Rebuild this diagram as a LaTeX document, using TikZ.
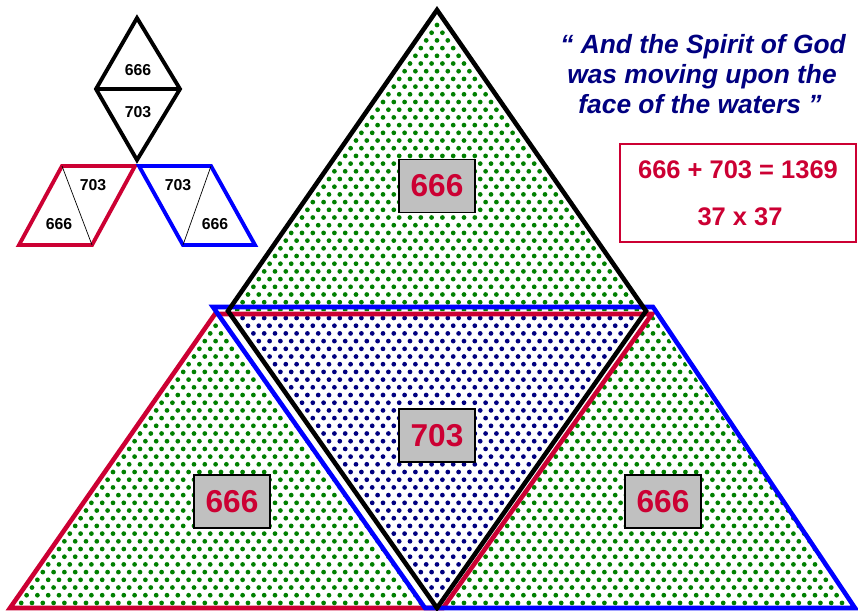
\documentclass[tikz,border=0pt]{standalone}
\usepackage{fontspec}
\setmainfont{Liberation Sans}
\usepackage{tikz}
\usepackage{xcolor}

\definecolor{crimson}{RGB}{204,0,51}
\definecolor{navytext}{RGB}{0,0,128}
\definecolor{dotgreen}{RGB}{0,128,0}
\definecolor{dotnavy}{RGB}{0,0,128}
\definecolor{pureblue}{RGB}{0,0,255}
\definecolor{boxgray}{RGB}{192,192,192}

\begin{document}
\begin{tikzpicture}[x = 0.02cm, y = -0.02cm,
    numbox/.style = {draw = black, line width = 0.6pt, fill = boxgray, minimum width = 1.52cm, minimum height = 1.06cm, inner sep = 0pt, text = crimson, font = \fontsize{18}{20}\selectfont\bfseries},
    iconlabel/.style = {font = \fontsize{9}{10}\selectfont\bfseries},
    quoteline/.style = {anchor = base, text = navytext, font = \fontsize{15}{17}\selectfont\bfseries\itshape},
    sumline/.style = {anchor = base, text = crimson, font = \fontsize{14.5}{17}\selectfont\bfseries},
    thickline/.style = {line width = 2.6pt},
    iconline/.style = {line width = 2.2pt}]
        \useasboundingbox (0, 0) rectangle (858, 610);

        \coordinate (T) at (437, 10);
        \coordinate (ML) at (228, 311);
        \coordinate (MR) at (646, 311);
        \coordinate (B) at (437, 608);
        \coordinate (redTL) at (215, 314);
        \coordinate (redTR) at (652, 314);
        \coordinate (redBL) at (10, 608);
        \coordinate (redBR) at (443, 608);
        \coordinate (blueTL) at (213, 307);
        \coordinate (blueTR) at (653, 307);
        \coordinate (blueBL) at (425, 608);
        \coordinate (blueBR) at (855, 608);

        % dotted fills
        \begin{scope}
            \clip (T) -- (ML) -- (MR) -- cycle;
            \foreach \r in {0,...,40}
            \foreach \c in {0,...,40}
            \fill [dotgreen] ({221 + 10.8*\c + 5.4*mod(\r,2)}, {9.6 + 7.7*\r}) circle [radius = 1.35pt];
        \end{scope}
        \begin{scope}
            \clip (ML) -- (MR) -- (B) -- cycle;
            \foreach \r in {0,...,39}
            \foreach \c in {0,...,40}
            \fill [dotnavy] ({221 + 10.8*\c + 5.4*mod(\r,2)}, {318 + 7.7*\r}) circle [radius = 1.35pt];
        \end{scope}
        \begin{scope}
            \clip (redTL) -- (redBL) -- (blueBL) -- cycle;
            \foreach \r in {0,...,39}
            \foreach \c in {0,...,40}
            \fill [dotgreen] ({5 + 10.8*\c + 5.4*mod(\r,2)}, {318 + 7.7*\r}) circle [radius = 1.35pt];
        \end{scope}
        \begin{scope}
            \clip (redTR) -- (redBR) -- (blueBR) -- cycle;
            \foreach \r in {0,...,39}
            \foreach \c in {0,...,40}
            \fill [dotgreen] ({437 + 10.8*\c + 5.4*mod(\r,2)}, {318 + 7.7*\r}) circle [radius = 1.35pt];
        \end{scope}

        \draw [thickline, crimson] (redBL) -- (redTL) -- (redTR) -- (redBR) -- cycle;
        \draw [thickline, pureblue] (blueTL) -- (blueTR) -- (blueBR) -- (blueBL) -- cycle;
        \draw [thickline, black] (T) -- (ML) -- (B) -- (MR) -- cycle;

        \node [numbox] (topbox) at (437, 186) {666};
        \node [numbox] (midbox) at (437, 435.5) {703};
        \node [numbox] (leftbox) at (232, 501.5) {666};
        \node [numbox] (rightbox) at (663, 501.5) {666};

        % small key in the corner
        \coordinate (dT) at (137, 18);
        \coordinate (dL) at (96, 89);
        \coordinate (dR) at (180, 89);
        \coordinate (dB) at (137, 160);
        \draw [iconline] (dT) -- (dL) -- (dB) -- (dR) -- cycle;
        \draw [iconline] (dL) -- (dR);
        \node [iconlabel] (d666) at (138, 70) {666};
        \node [iconlabel] (d703) at (138, 112) {703};

        \coordinate (rTL) at (62, 166);
        \coordinate (rTR) at (135, 166);
        \coordinate (rBR) at (92, 245);
        \coordinate (rBL) at (19, 245);
        \draw [iconline, crimson] (rTL) -- (rTR) -- (rBR) -- (rBL) -- cycle;
        \draw [thin] (rTL) -- (rBR);
        \node [iconlabel] (r703) at (93, 185) {703};
        \node [iconlabel] (r666) at (59, 224) {666};

        \coordinate (bTL) at (139, 166);
        \coordinate (bTR) at (211, 166);
        \coordinate (bBR) at (255, 245);
        \coordinate (bBL) at (183, 245);
        \draw [iconline, pureblue] (bTL) -- (bTR) -- (bBR) -- (bBL) -- cycle;
        \draw [thin] (bTR) -- (bBL);
        \node [iconlabel] (b703) at (178, 185) {703};
        \node [iconlabel] (b666) at (215, 224) {666};

        \node [quoteline] (quoteA) at (703, 53) {“ And the Spirit of God};
        \node [quoteline] (quoteB) at (702, 83) {was moving upon the};
        \node [quoteline] (quoteC) at (700, 113) {face of the waters ”};

        \draw [crimson, line width = 0.6pt] (620, 144) rectangle (856, 242);
        \node [sumline] (sumA) at (738, 178) {666 + 703 = 1369};
        \node [sumline] (sumB) at (740, 225) {37 x 37};
    \end{tikzpicture}
\end{document}
